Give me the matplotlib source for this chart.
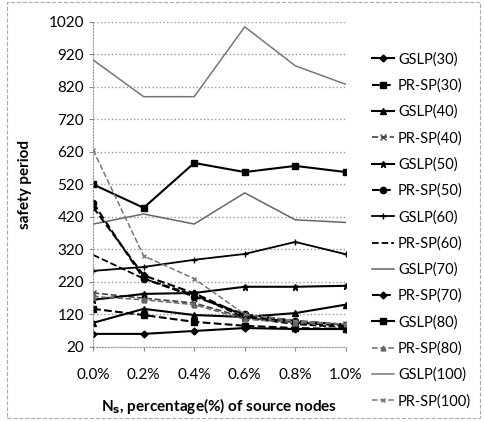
import matplotlib
matplotlib.use("Agg")
import matplotlib.pyplot as plt
from matplotlib.patches import Rectangle

x_labels = ["0.0%", "0.2%", "0.4%", "0.6%", "0.8%", "1.0%"]

gslp_30 = [60, 60, 69, 78, 75, 75]
prsp_30 = [137, 118, 97, 85, 78, 75]
gslp_40 = [94, 137, 118, 112, 124, 150]
prsp_40 = [186, 170, 155, 110, 95, 90]
gslp_50 = [165, 183, 186, 205, 205, 208]
prsp_50 = [463, 230, 175, 120, 100, 88]
gslp_60 = [254, 266, 288, 306, 343, 305]
prsp_60 = [303, 230, 180, 110, 90, 80]
gslp_70 = [398, 429, 398, 494, 411, 403]
prsp_70 = [450, 240, 185, 115, 95, 85]
gslp_80 = [520, 448, 586, 558, 577, 558]
prsp_80 = [175, 165, 150, 105, 95, 90]
gslp_100 = [903, 790, 790, 1005, 885, 828]
prsp_100 = [626, 300, 230, 120, 100, 90]

series = [
    ("GSLP(30)", gslp_30, dict(color="black", ls="-", lw=1.5, marker="D", ms=3.5)),
    ("PR-SP(30)", prsp_30, dict(color="black", ls="--", lw=1.5, marker="s", ms=5)),
    ("GSLP(40)", gslp_40, dict(color="black", ls="-", lw=1.5, marker="^", ms=4.5)),
    ("PR-SP(40)", prsp_40, dict(color="#444444", ls="--", lw=1.2, marker="x", ms=4)),
    ("GSLP(50)", gslp_50, dict(color="black", ls="-", lw=1.5, marker="*", ms=5)),
    ("PR-SP(50)", prsp_50, dict(color="black", ls="--", lw=1.5, marker="o", ms=4.5)),
    ("GSLP(60)", gslp_60, dict(color="black", ls="-", lw=1.3, marker="+", ms=5)),
    ("PR-SP(60)", prsp_60, dict(color="black", ls="--", lw=1.3, marker=None)),
    ("GSLP(70)", gslp_70, dict(color="#666666", ls="-", lw=1.1, marker=None)),
    ("PR-SP(70)", prsp_70, dict(color="black", ls="--", lw=1.5, marker="D", ms=3.5)),
    ("GSLP(80)", gslp_80, dict(color="black", ls="-", lw=1.5, marker="s", ms=5)),
    ("PR-SP(80)", prsp_80, dict(color="#666666", ls="--", lw=1.1, marker="^", ms=3.5)),
    ("GSLP(100)", gslp_100, dict(color="#777777", ls="-", lw=1.1, marker=None)),
    ("PR-SP(100)", prsp_100, dict(color="#777777", ls="--", lw=1.1, marker="x", ms=3.5)),
]

plt.rcParams['font.family'] = ['Lato', 'DejaVu Sans']

fig = plt.figure(figsize=(4.85, 4.22), dpi=100)
ax = fig.add_axes([0.192, 0.178, 0.521, 0.770])

xs = list(range(len(x_labels)))
for name, vals, st in series:
    ax.plot(xs, vals, label=name, **st)

ax.set_xlim(0, len(x_labels) - 1)
ax.set_ylim(20, 1020)
ax.set_yticks(range(20, 1021, 100))
ax.set_xticks(xs)
ax.set_xticklabels(x_labels)
ax.tick_params(axis='both', labelsize=11, length=3, color="#888888")
ax.tick_params(axis='x', pad=12)
ax.grid(axis='y', color="#999999", ls=":", lw=1.0)
for s in ["top", "right"]:
    ax.spines[s].set_visible(False)
for s in ["left", "bottom"]:
    ax.spines[s].set_color("#999999")
    ax.spines[s].set_linestyle(":")

ax.set_ylabel("safety period", fontsize=11, fontweight="bold", labelpad=12)
ax.set_xlabel("N$_\\mathbf{s}$, percentage(%) of source nodes", fontsize=11,
              fontweight="bold", labelpad=10)

leg = ax.legend(loc="upper left", bbox_to_anchor=(1.08, 0.925), frameon=False,
                fontsize=10.5, handlelength=1.5, handletextpad=0.3,
                labelspacing=0.82, borderaxespad=0)

fig.patches.append(Rectangle((0.015, 0.01), 0.975, 0.985, transform=fig.transFigure,
                             fill=False, edgecolor="#aaaaaa", lw=0.8, ls="--"))

fig.savefig("out.png", dpi=100)
